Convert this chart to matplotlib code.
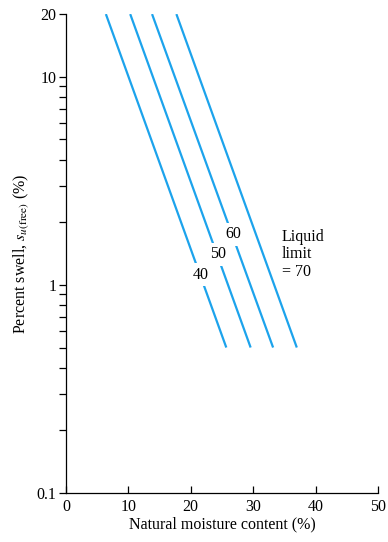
import matplotlib
matplotlib.use("Agg")
import matplotlib.pyplot as plt
from matplotlib.ticker import FixedLocator, NullFormatter

plt.rcParams['font.family'] = ['Liberation Serif', 'DejaVu Serif']
plt.rcParams['mathtext.fontset'] = 'stix'

# liquid limit lines: moisture content at top (20 %) and bottom (0.5 %) of each line
liquid_limit = [40, 50, 60, 70]
moisture_top = [6.4, 10.3, 13.8, 17.7]
moisture_bottom = [25.7, 29.6, 33.2, 37.0]
swell_top = 20
swell_bottom = 0.5

# label positions (moisture, swell)
label_x = [21.6, 24.3, 26.9]
label_y = [1.12, 1.40, 1.75]
note_x = 34.6
note_y = 1.40

x_ticks = [0, 10, 20, 30, 40, 50]
y_major = [0.1, 1, 10, 20]
y_labels = ['0.1', '1', '10', '20']
y_minor = [0.2, 0.3, 0.4, 0.5, 0.6, 0.7, 0.8, 0.9, 2, 3, 4, 5, 6, 7, 8, 9]

blue = '#1CA3EC'
fs = 11.5

fig = plt.figure(figsize=(3.88, 5.42), dpi=100)
ax = fig.add_axes([0.170, 0.0904, 0.804, 0.8836])

for x0, x1 in zip(moisture_top, moisture_bottom):
    ax.plot([x0, x1], [swell_top, swell_bottom], color=blue, lw=1.6, solid_capstyle='butt')

for ll, lx, ly in zip(liquid_limit[:3], label_x, label_y):
    ax.text(lx, ly, str(ll), ha='center', va='center', fontsize=fs,
            bbox=dict(facecolor='white', edgecolor='none', pad=2.5))
ax.text(note_x, note_y, 'Liquid\nlimit\n= %d' % liquid_limit[3], ha='left', va='center',
        fontsize=fs, linespacing=1.1)

ax.set_yscale('log')
ax.set_xlim(0, 50)
ax.set_ylim(0.1, 20)

ax.yaxis.set_major_locator(FixedLocator(y_major))
ax.set_yticklabels(y_labels)
ax.yaxis.set_minor_locator(FixedLocator(y_minor))
ax.yaxis.set_minor_formatter(NullFormatter())
ax.set_xticks(x_ticks)

ax.tick_params(axis='y', which='both', direction='out', length=5, width=0.9, labelsize=fs, pad=2)
ax.tick_params(axis='x', direction='in', length=5, width=0.9, labelsize=fs, pad=4)

for side in ['top', 'right']:
    ax.spines[side].set_visible(False)
for side in ['left', 'bottom']:
    ax.spines[side].set_linewidth(0.9)

ax.set_xlabel('Natural moisture content (%)', fontsize=fs, labelpad=1)
ax.set_ylabel(r'Percent swell, $s_{u(\mathrm{free})}$ (%)', fontsize=fs, labelpad=4)

fig.savefig('out.png', dpi=100)
